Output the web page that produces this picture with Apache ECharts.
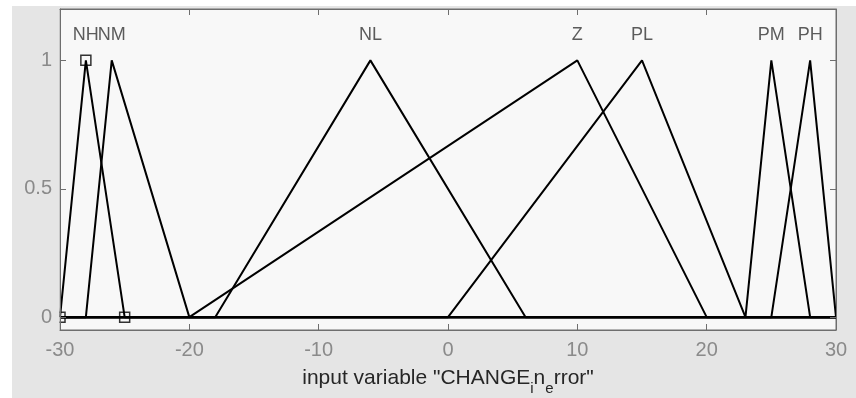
<!DOCTYPE html>
<html>
<head>
<meta charset="utf-8">
<script src="https://cdn.jsdelivr.net/npm/echarts@6/dist/echarts.min.js"></script>
<style>
  html, body { margin: 0; padding: 0; background: #ffffff; }
  #chart { width: 856px; height: 398px; }
</style>
</head>
<body>
<div id="chart"></div>
<script>
// Triangular membership functions of the input "CHANGE_in_error"
const inputRange = [-30, 30];
const mfNames = ['NH', 'NM', 'NL', 'Z', 'PL', 'PM', 'PH'];
const mfLeft  = [-30, -28, -18, -20, 0, 23, 25];
const mfPeak  = [-28, -26, -6, 10, 15, 25, 28];
const mfRight = [-25, -20, 6, 20, 23, 28, 30];
const yTicks = [0, 0.5, 1];
const selectedMf = 'NH';

const FONT = '"Liberation Sans", Arial, Helvetica, sans-serif';
const LABEL_Y = 1.1;

const chart = echarts.init(document.getElementById('chart'), null, { renderer: 'canvas' });

// each MF is drawn over the whole input range, so the zero parts form the baseline
const mfSeries = mfNames.map((name, i) => ({
  type: 'line',
  name: name,
  data: [
    [inputRange[0], 0],
    [mfLeft[i], 0],
    [mfPeak[i], 1],
    [mfRight[i], 0],
    [inputRange[1], 0]
  ],
  symbol: 'none',
  lineStyle: { color: '#000000', width: 2 },
  silent: true,
  animation: false,
  z: 2
}));

// square markers on the vertices of the selected MF
const selIdx = mfNames.indexOf(selectedMf);
const markerSeries = {
  type: 'scatter',
  data: [[mfLeft[selIdx], 0], [mfPeak[selIdx], 1], [mfRight[selIdx], 0]],
  symbol: 'rect',
  symbolSize: 10,
  itemStyle: { color: 'rgba(0,0,0,0)', borderColor: '#000000', borderWidth: 1.5 },
  silent: true,
  animation: false,
  z: 3
};

// MF names above each peak
const labelSeries = {
  type: 'scatter',
  data: mfNames.map((name, i) => ({ name: name, value: [mfPeak[i], LABEL_Y] })),
  symbolSize: 0,
  label: {
    show: true,
    position: 'inside',
    formatter: p => p.name,
    fontFamily: FONT,
    fontSize: 18,
    color: '#333333'
  },
  silent: true,
  animation: false,
  z: 3
};

const axisGray = '#6e6e6e';
const titleColor = '#262626';

const option = {
  backgroundColor: '#e5e5e5',
  animation: false,
  grid: {
    left: 60, right: 20, top: 9, bottom: 68,
    containLabel: false,
    outerBoundsMode: 'none',
    show: true,
    backgroundColor: '#f8f8f8',
    borderColor: axisGray,
    borderWidth: 1
  },
  graphic: [
    { type: 'rect', shape: { x: 0, y: 0, width: 12, height: 398 }, style: { fill: '#ffffff' }, silent: true },
    { type: 'rect', shape: { x: 0, y: 0, width: 856, height: 6 }, style: { fill: '#ffffff' }, silent: true },
    // keeps markers sitting on the left edge clipped to the plot area
    { type: 'rect', shape: { x: 12, y: 6, width: 47.5, height: 392 }, style: { fill: '#e5e5e5' }, silent: true, z: 5 }
  ],
  xAxis: [
    {
      type: 'value',
      min: inputRange[0], max: inputRange[1], interval: 10,
      position: 'bottom',
      z: 10,
      axisLine: { show: true, onZero: false, lineStyle: { color: axisGray, width: 1 } },
      axisTick: { show: true, inside: true, length: 6, lineStyle: { color: axisGray } },
      axisLabel: { show: true, margin: 10, fontFamily: FONT, fontSize: 20, color: '#8a8a8a' },
      splitLine: { show: false },
      name: '{n|input variable "CHANGE}{s|i}{n|n}{s|e}{n|rror"}',
      nameLocation: 'middle',
      nameGap: 38,
      nameTextStyle: {
        fontFamily: FONT, fontSize: 21, color: titleColor,
        rich: {
          n: { fontFamily: FONT, fontSize: 21, color: titleColor, padding: [0, 0, 7, 0], verticalAlign: 'bottom' },
          s: { fontFamily: FONT, fontSize: 15, color: titleColor, verticalAlign: 'bottom' }
        }
      }
    },
    {
      type: 'value',
      min: inputRange[0], max: inputRange[1], interval: 10,
      position: 'top',
      z: 10,
      axisLine: { show: true, onZero: false, lineStyle: { color: axisGray, width: 1 } },
      axisTick: { show: true, inside: true, length: 6, lineStyle: { color: axisGray } },
      axisLabel: { show: false },
      splitLine: { show: false }
    }
  ],
  yAxis: [
    {
      type: 'value',
      min: -0.05, max: 1.2,
      position: 'left',
      z: 10,
      axisLine: { show: true, onZero: false, lineStyle: { color: axisGray, width: 1 } },
      axisTick: { show: true, inside: true, length: 6, lineStyle: { color: axisGray }, customValues: yTicks },
      axisLabel: { show: true, margin: 8, fontFamily: FONT, fontSize: 20, color: '#8a8a8a', customValues: yTicks, formatter: v => String(v) },
      splitLine: { show: false }
    },
    {
      type: 'value',
      min: -0.05, max: 1.2,
      position: 'right',
      z: 10,
      axisLine: { show: true, onZero: false, lineStyle: { color: axisGray, width: 1 } },
      axisTick: { show: true, inside: true, length: 6, lineStyle: { color: axisGray }, customValues: yTicks },
      axisLabel: { show: false },
      splitLine: { show: false }
    }
  ],
  series: mfSeries.concat([markerSeries, labelSeries])
};

chart.setOption(option);
</script>
</body>
</html>
